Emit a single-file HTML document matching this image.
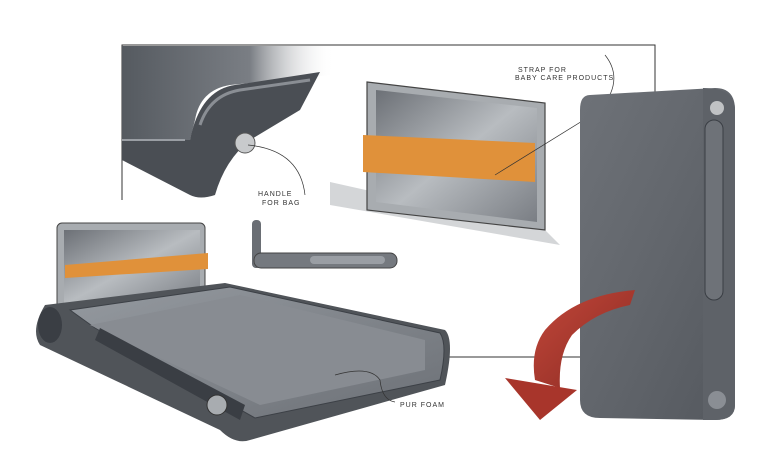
<!DOCTYPE html>
<html><head><style>
html,body{margin:0;padding:0;background:#fff;}
svg{display:block;}
text{font-family:"Liberation Sans",sans-serif;font-size:7px;fill:#333;letter-spacing:1px;}
</style></head><body>
<svg width="776" height="451" viewBox="0 0 776 451" xmlns="http://www.w3.org/2000/svg">
<defs>
<linearGradient id="fade" x1="0" y1="0" x2="1" y2="0">
<stop offset="0" stop-color="#555a60"/><stop offset="0.6" stop-color="#7a7e84"/><stop offset="1" stop-color="#fff" stop-opacity="0"/>
</linearGradient>
<linearGradient id="panel" x1="0" y1="0" x2="1" y2="1">
<stop offset="0" stop-color="#6e7278"/><stop offset="0.5" stop-color="#62666c"/><stop offset="1" stop-color="#54585e"/>
</linearGradient>
<linearGradient id="tray" x1="0" y1="0" x2="1" y2="1">
<stop offset="0" stop-color="#959aa0"/><stop offset="1" stop-color="#6c7076"/>
</linearGradient>
<linearGradient id="glass" x1="0" y1="0" x2="1" y2="1">
<stop offset="0" stop-color="#6c7076"/><stop offset="0.5" stop-color="#b8bcc0"/><stop offset="1" stop-color="#7a7e84"/>
</linearGradient>
<linearGradient id="arrow" x1="0" y1="0" x2="1" y2="1">
<stop offset="0" stop-color="#c2473a"/><stop offset="1" stop-color="#8a2a22"/>
</linearGradient>
</defs>
<polyline points="122,200 122,45 655,45 655,357 445,357" fill="none" stroke="#333" stroke-width="1"/>
<path d="M122,46 L335,46 L330,75 L230,85 Q200,90 195,120 L190,140 L122,140 Z" fill="url(#fade)"/>
<path d="M122,140 L190,140 Q200,90 235,85 L320,72 L300,110 L250,140 Q225,160 215,195 Q200,200 190,195 L122,160 Z" fill="#4a4e54"/>
<path d="M200,125 Q210,95 240,90 L310,80" fill="none" stroke="#8a8e94" stroke-width="3"/>
<circle cx="245" cy="143" r="10" fill="#c8cacc" stroke="#555" stroke-width="1"/>
<path d="M122,140 L185,140" stroke="#9a9ea4" stroke-width="2"/>
<path d="M248,145 Q300,150 305,195" fill="none" stroke="#333" stroke-width="0.7"/>
<text x="258" y="196">HANDLE</text><text x="262" y="205">FOR BAG</text>
<path d="M330,182 L545,230 L560,245 L330,205 Z" fill="#d4d6d8"/>
<path d="M367,82 L545,103 L545,230 L367,210 Z" fill="#a8acb0" stroke="#444" stroke-width="1.2"/>
<path d="M376,90 L537,108 L537,222 L376,202 Z" fill="url(#glass)"/>
<path d="M363,135 L535,143 L535,182 L363,172 Z" fill="#e0913a"/>
<path d="M605,55 Q625,80 600,110 L495,175" fill="none" stroke="#333" stroke-width="0.7"/>
<text x="518" y="72">STRAP FOR</text><text x="515" y="80">BABY CARE PRODUCTS</text>
<rect x="252" y="220" width="9" height="48" rx="4" fill="#6a6e74"/>
<rect x="254" y="253" width="143" height="15" rx="7" fill="#75797f" stroke="#444"/>
<rect x="310" y="256" width="75" height="8" rx="4" fill="#9a9ea4"/>
<path d="M590,95 L715,88 Q735,88 735,110 L735,405 Q735,420 715,420 L600,418 Q580,418 580,400 L580,110 Q580,95 590,95 Z" fill="url(#panel)"/>
<path d="M703,88 Q735,88 735,110 L735,405 Q735,420 715,420 L703,420 Z" fill="#5e6268"/>
<rect x="705" y="120" width="18" height="180" rx="9" fill="#6e7278" stroke="#3a3e44"/>
<circle cx="717" cy="108" r="7" fill="#c0c2c4"/><circle cx="717" cy="400" r="9" fill="#8a8e94"/>
<path d="M635,290 Q575,295 545,330 Q530,350 535,380 L560,388 Q558,355 572,335 Q595,312 630,305 Z" fill="url(#arrow)"/>
<path d="M505,378 L577,390 L540,420 Z" fill="#a8352b"/>
<rect x="57" y="223" width="148" height="86" rx="5" fill="#a8acb0" stroke="#444"/>
<rect x="64" y="230" width="136" height="75" fill="url(#glass)"/>
<path d="M65,265 L208,253 L208,269 L65,278 Z" fill="#e0913a"/>
<path d="M45,305 L225,283 L445,330 Q455,340 445,385 L250,440 Q235,445 220,430 L40,345 Q30,330 45,305 Z" fill="#505459"/>
<path d="M70,310 L230,287 L440,333 Q448,345 440,380 L255,418 L95,328 Z" fill="url(#tray)" stroke="#3c4046"/>
<path d="M90,325 L240,295 L425,340 L425,370 L260,405 Z" fill="#888c92"/>
<ellipse cx="50" cy="325" rx="12" ry="18" fill="#3a3e44"/>
<path d="M95,340 L240,420 L245,405 L100,328 Z" fill="#3a3e44"/>
<circle cx="217" cy="405" r="10" fill="#a8acb0" stroke="#333"/>
<path d="M335,375 Q370,365 380,380 Q382,400 395,402" fill="none" stroke="#333" stroke-width="0.7"/>
<text x="400" y="407">PUR FOAM</text>
</svg>
</body></html>
